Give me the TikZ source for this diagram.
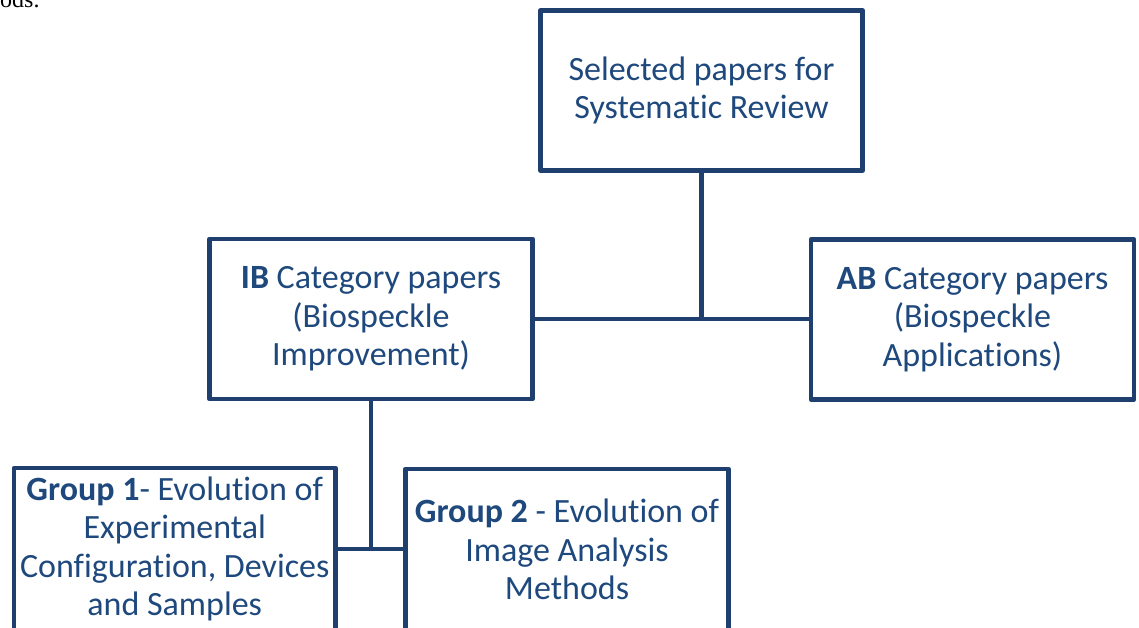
\documentclass[tikz,border=0pt]{standalone}
\usepackage{fontspec}
\setmainfont{Carlito}[RawFeature=-liga]
\newfontfamily\serifpage{Liberation Serif}
\definecolor{txtblue}{HTML}{1F497D}
\definecolor{lineblue}{HTML}{1F3F6E}
\begin{document}
\begin{tikzpicture}[x=1pt,y=-1pt,
  catbox/.style={draw=lineblue, line width=4.5pt, line join=round, fill=white,
    text=txtblue, align=center, inner sep=0pt,
    font=\fontsize{34}{38.5}\selectfont},
  conn/.style={draw=lineblue, line width=4.5pt}]
\useasboundingbox (0,0) rectangle (1139,627);
\begin{scope}
\clip (0,0) rectangle (1139,627);
\node[anchor=base west, inner sep=0pt, font=\serifpage\fontsize{24}{26}\selectfont] (frag) at (0,7) {ods.};
\node[catbox, minimum width=322pt, minimum height=160pt] (top) at (701.5,90.5)
  {Selected papers for\\Systematic Review};
\node[catbox, minimum width=323pt, minimum height=160pt] (ib) at (371,319)
  {\textbf{IB} Category papers\\(Biospeckle\\Improvement)};
\node[catbox, minimum width=323pt, minimum height=160pt] (ab) at (972.5,319.5)
  {\textbf{AB} Category papers\\(Biospeckle\\Applications)};
\node[catbox, minimum width=321.5pt, minimum height=162pt] (g1) at (174.75,549)
  {\textbf{Group 1}- Evolution of\\Experimental\\Configuration, Devices\\and Samples};
\node[catbox, minimum width=323pt, minimum height=161pt] (g2) at (567,549.5)
  {\textbf{Group 2} - Evolution of\\Image Analysis\\Methods};
\draw[conn] (top.south) -- (top.south |- ib.east);
\draw[conn] (ib.east) -- (ib.east -| ab.west);
\draw[conn] (ib.south) -- (ib.south |- g1.east);
\draw[conn] (g1.east) -- (g1.east -| g2.west);
\end{scope}
\end{tikzpicture}
\end{document}
